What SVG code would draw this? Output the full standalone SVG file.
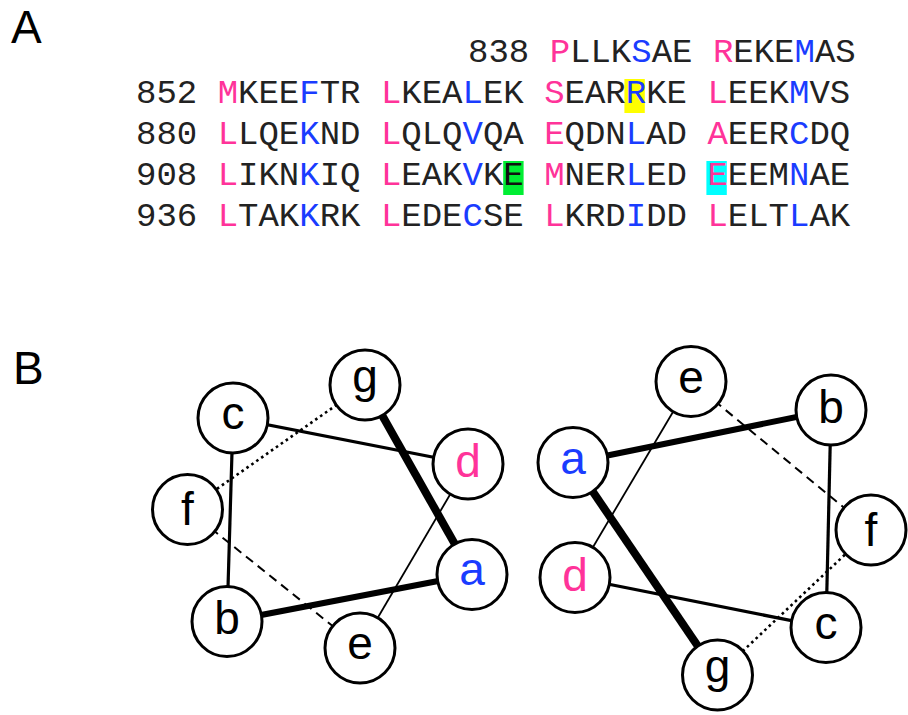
<svg xmlns="http://www.w3.org/2000/svg" width="908" height="715" viewBox="0 0 908 715">
  <style>
    .panel { font-family: "Liberation Sans", Arial, sans-serif; font-size: 46px; fill: #000; }
    .seq { font-family: "Liberation Mono", "Courier New", monospace; font-size: 34px; fill: #222; }
    .p { fill: #ff3399; }
    .b { fill: #1a3cff; }
    .k { fill: #111; }
    .node circle { fill: #fff; stroke: #000; stroke-width: 3; }
    .node text { font-family: "Liberation Sans", Arial, sans-serif; font-size: 46px; fill: #000; text-anchor: middle; }
    .node text.blue { fill: #1a3cff; }
    .node text.pink { fill: #ff3399; }
    .edge { stroke: #000; fill: none; stroke-linecap: butt; }
    .w8 { stroke-width: 8; }
    .w6 { stroke-width: 6; }
    .w3 { stroke-width: 3.2; }
    .w2 { stroke-width: 1.8; }
    .dash { stroke-width: 2; stroke-dasharray: 9 6; }
    .dot { stroke-width: 2.6; stroke-dasharray: 2.6 3.4; }
  </style>

  <!-- panel letters -->
  <text class="panel" x="11" y="43">A</text>
  <text class="panel" x="13" y="384">B</text>

  <!-- highlighted residues -->
  <rect x="624.4" y="79" width="20.4" height="34" fill="#ffff00"/>
  <rect x="503.2" y="161" width="20.4" height="34" fill="#00ee33"/>
  <rect x="706.4" y="161" width="20.4" height="34" fill="#00ffff"/>

  <!-- heptad sequence -->
  <g id="sequence">
    <text class="seq" x="468" y="62" xml:space="preserve">838 <tspan class="p">P</tspan>LLK<tspan class="b">S</tspan>AE <tspan class="p">R</tspan>EKE<tspan class="b">M</tspan>AS</text>
    <text class="seq" x="136" y="103" xml:space="preserve">852 <tspan class="p">M</tspan>KEE<tspan class="b">F</tspan>TR <tspan class="p">L</tspan>KEA<tspan class="b">L</tspan>EK <tspan class="p">S</tspan>EAR<tspan class="b">R</tspan>KE <tspan class="p">L</tspan>EEK<tspan class="b">M</tspan>VS</text>
    <text class="seq" x="136" y="144" xml:space="preserve">880 <tspan class="p">L</tspan>LQE<tspan class="b">K</tspan>ND <tspan class="p">L</tspan>QLQ<tspan class="b">V</tspan>QA <tspan class="p">E</tspan>QDN<tspan class="b">L</tspan>AD <tspan class="p">A</tspan>EER<tspan class="b">C</tspan>DQ</text>
    <text class="seq" x="136" y="185" xml:space="preserve">908 <tspan class="p">L</tspan>IKN<tspan class="b">K</tspan>IQ <tspan class="p">L</tspan>EAK<tspan class="b">V</tspan>K<tspan class="k">E</tspan> <tspan class="p">M</tspan>NER<tspan class="b">L</tspan>ED <tspan class="p">E</tspan>EEM<tspan class="b">N</tspan>AE</text>
    <text class="seq" x="136" y="226" xml:space="preserve">936 <tspan class="p">L</tspan>TAK<tspan class="b">K</tspan>RK <tspan class="p">L</tspan>EDE<tspan class="b">C</tspan>SE <tspan class="p">L</tspan>KRD<tspan class="b">I</tspan>DD <tspan class="p">L</tspan>ELT<tspan class="b">L</tspan>AK</text>
  </g>

  <!-- helical wheel connectors -->
  <g id="connectors">
    <!-- left wheel -->
    <line class="edge dot" x1="187.5" y1="509.5" x2="365" y2="385"/>
    <line class="edge dash" x1="187.5" y1="509.5" x2="360" y2="648"/>
    <line class="edge w2" x1="468" y1="464" x2="360" y2="648"/>
    <line class="edge w3" x1="233" y1="418" x2="468" y2="464"/>
    <line class="edge w3" x1="233" y1="418" x2="227" y2="621.5"/>
    <line class="edge w8" x1="365" y1="385" x2="472" y2="574.5"/>
    <line class="edge w6" x1="227" y1="621.5" x2="472" y2="574.5"/>
    <!-- right wheel -->
    <line class="edge dot" x1="871" y1="530" x2="717.5" y2="675"/>
    <line class="edge dash" x1="691" y1="381.5" x2="871" y2="530"/>
    <line class="edge w2" x1="691" y1="381.5" x2="575" y2="577.5"/>
    <line class="edge w3" x1="575" y1="577.5" x2="826" y2="627.5"/>
    <line class="edge w3" x1="831" y1="410" x2="826" y2="627.5"/>
    <line class="edge w8" x1="573" y1="462.5" x2="717.5" y2="675"/>
    <line class="edge w6" x1="573" y1="462.5" x2="831" y2="410"/>
  </g>

  <!-- left wheel positions -->
  <g id="L-g" class="node"><circle cx="365" cy="385" r="35"/><text x="365" y="392">g</text></g>
  <g id="L-c" class="node"><circle cx="233" cy="418" r="35"/><text x="233" y="429">c</text></g>
  <g id="L-d" class="node"><circle cx="468" cy="464" r="35"/><text class="pink" x="468" y="477">d</text></g>
  <g id="L-f" class="node"><circle cx="187.5" cy="509.5" r="35"/><text x="187.5" y="525">f</text></g>
  <g id="L-a" class="node"><circle cx="472" cy="574.5" r="35"/><text class="blue" x="472" y="585">a</text></g>
  <g id="L-b" class="node"><circle cx="227" cy="621.5" r="35"/><text x="227" y="633.5">b</text></g>
  <g id="L-e" class="node"><circle cx="360" cy="648" r="35"/><text x="360" y="659">e</text></g>

  <!-- right wheel positions -->
  <g id="R-e" class="node"><circle cx="691" cy="381.5" r="35"/><text x="691" y="392.5">e</text></g>
  <g id="R-b" class="node"><circle cx="831" cy="410" r="35"/><text x="831" y="422.5">b</text></g>
  <g id="R-a" class="node"><circle cx="573" cy="462.5" r="35"/><text class="blue" x="573" y="473.5">a</text></g>
  <g id="R-f" class="node"><circle cx="871" cy="530" r="35"/><text x="871" y="546">f</text></g>
  <g id="R-d" class="node"><circle cx="575" cy="577.5" r="35"/><text class="pink" x="575" y="590.5">d</text></g>
  <g id="R-c" class="node"><circle cx="826" cy="627.5" r="35"/><text x="826" y="638.5">c</text></g>
  <g id="R-g" class="node"><circle cx="717.5" cy="675" r="35"/><text x="717.5" y="682">g</text></g>
</svg>
